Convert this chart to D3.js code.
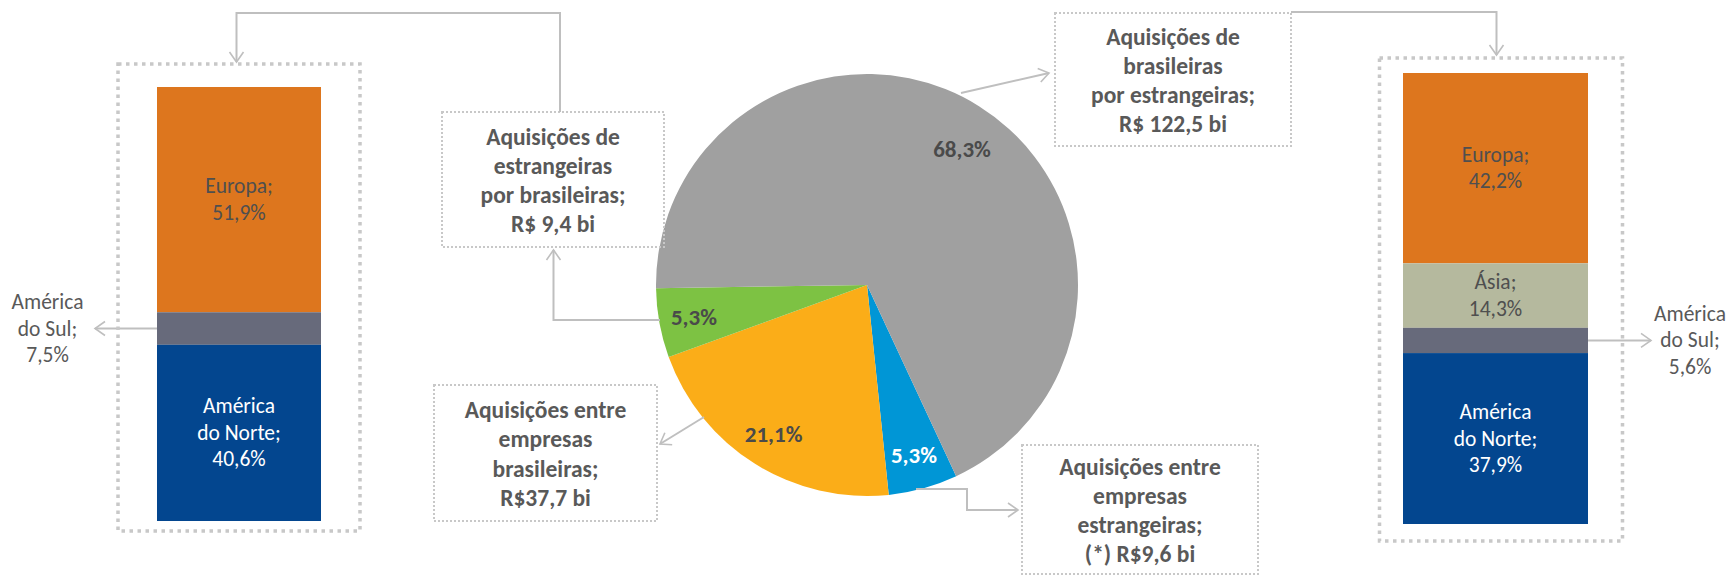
<!DOCTYPE html>
<meta charset="utf-8">
<script src="https://cdn.jsdelivr.net/npm/d3@7"></script>
<style>
body { margin: 0; background: #fff; }
text { font-family: Carlito, Calibri, Lato, sans-serif; fill: #595959; }
.box { fill: none; stroke: #c8c8c8; stroke-width: 2; stroke-dasharray: 2,2; }
.barbox { fill: none; stroke: #c8c8c8; stroke-width: 3.5; stroke-dasharray: 3.5,4.5; }
.conn { fill: none; stroke: #bfbfbf; stroke-width: 2; }
</style>
<body>
<script>

// pie: share of total M&A value by type of deal
var pieNames = ["Aquisições entre empresas estrangeiras", "Aquisições entre empresas brasileiras",
                "Aquisições de estrangeiras por brasileiras", "Aquisições de brasileiras por estrangeiras"];
var pieValues = [5.3, 21.1, 5.3, 68.3];
var pieColors = ["#0096d6", "#fbad18", "#7dc243", "#a0a0a0"];
var pieTextColors = ["#fff", "#4a4a4a", "#4a4a4a", "#4a4a4a"];

// left bar: origin of companies bought by brazilians
var leftRegions = ["Europa", "América do Sul", "América do Norte"];
var leftValues = [51.9, 7.5, 40.6];
var leftColors = ["#dd761e", "#676a7b", "#03468f"];

// right bar: origin of foreign buyers
var rightRegions = ["Europa", "Ásia", "América do Sul", "América do Norte"];
var rightValues = [42.2, 14.3, 5.6, 37.9];
var rightColors = ["#dd761e", "#b5b99e", "#676a7b", "#03468f"];

// callout boxes
var boxTopLeft = ["Aquisições de", "estrangeiras", "por brasileiras;", "R$ 9,4 bi"];
var boxTopRight = ["Aquisições de", "brasileiras", "por estrangeiras;", "R$ 122,5 bi"];
var boxBottomLeft = ["Aquisições entre", "empresas", "brasileiras;", "R$37,7 bi"];
var boxBottomRight = ["Aquisições entre", "empresas", "estrangeiras;", "(*) R$9,6 bi"];

var width = 1731, height = 579;

var svg = d3.select("body").append("svg")
    .attr("width", width)
    .attr("height", height);

svg.append("defs").append("marker")
    .attr("id", "chev")
    .attr("markerUnits", "userSpaceOnUse")
    .attr("viewBox", "-12 -9 14 18")
    .attr("refX", 0).attr("refY", 0)
    .attr("markerWidth", 14).attr("markerHeight", 18)
    .attr("orient", "auto")
  .append("path")
    .attr("d", "M-10,-7L0,0L-10,7")
    .attr("fill", "none")
    .attr("stroke", "#bfbfbf")
    .attr("stroke-width", 1.6);

function fmt(v) { return d3.format(".1f")(v).replace(".", ",") + "%"; }

function multiline(g, lines, x, yc, lh, opts) {
  var t = g.append("text")
      .attr("text-anchor", "middle")
      .style("font-size", opts.size + "px")
      .style("font-weight", opts.weight || 400)
      .style("fill", opts.color || "#595959");
  var y0 = yc - (lines.length - 1) * lh / 2;
  lines.forEach(function(l, i) {
    t.append("tspan")
      .attr("x", x)
      .attr("y", y0 + i * lh)
      .attr("dominant-baseline", "central")
      .text(l);
  });
  return t;
}

// ---- pie
var cx = 867, cy = 285, R = 211;
var deg = Math.PI / 180;
var pie = d3.pie().sort(null).value(function(d) { return d; })
    .startAngle(155 * deg).endAngle(155 * deg + 2 * Math.PI);
var arcs = pie(pieValues);
var arc = d3.arc().innerRadius(0).outerRadius(R);
var labelArc = d3.arc().innerRadius(176).outerRadius(176);

var pg = svg.append("g").attr("transform", "translate(" + cx + "," + cy + ")");
pg.selectAll("path")
    .data(arcs)
  .enter().append("path")
    .attr("d", arc)
    .attr("fill", function(d, i) { return pieColors[i]; });

pg.selectAll("text")
    .data(arcs)
  .enter().append("text")
    .attr("transform", function(d) {
      // the big slice carries its label a bit further round, like the original
      var c = d.data > 50 ? d3.arc().innerRadius(166).outerRadius(166)
            .centroid({ startAngle: d.startAngle + 0.1, endAngle: d.endAngle - 0.0 })
            : labelArc.centroid(d);
      return "translate(" + c + ")";
    })
    .attr("text-anchor", "middle")
    .attr("dominant-baseline", "central")
    .style("font-size", "23px")
    .style("font-weight", 700)
    .style("fill", function(d, i) { return pieTextColors[i]; })
    .text(function(d) { return fmt(d.data); });

// ---- stacked bars
function stackBar(regions, values, colors, x0, x1, y0, y1) {
  var y = d3.scaleLinear().domain([0, d3.sum(values)]).range([y0, y1]);
  var cum = d3.cumsum(values);
  var segs = values.map(function(v, i) {
    return { name: regions[i], value: v, color: colors[i], a: cum[i] - v, b: cum[i] };
  });
  var g = svg.append("g");
  g.selectAll("rect")
      .data(segs)
    .enter().append("rect")
      .attr("x", x0)
      .attr("width", x1 - x0)
      .attr("y", function(d) { return y(d.a); })
      .attr("height", function(d) { return y(d.b) - y(d.a); })
      .attr("fill", function(d) { return d.color; });
  segs.forEach(function(d) {
    d.ym = (y(d.a) + y(d.b)) / 2;
  });
  return { g: g, segs: segs };
}

function regionLines(d) {
  var parts = d.name.split(" ");
  var lines = parts.length > 1 ? [parts[0], parts.slice(1).join(" ") + ";"] : [d.name + ";"];
  lines.push(fmt(d.value));
  return lines;
}

var left = stackBar(leftRegions, leftValues, leftColors, 157, 321, 87, 521);
var right = stackBar(rightRegions, rightValues, rightColors, 1403, 1588, 73, 524);

[left, right].forEach(function(b) {
  var xm = b === left ? 239 : 1495.5;
  b.segs.forEach(function(d) {
    if (d.name === "América do Sul") return;
    multiline(b.g, regionLines(d), xm, d.ym, 26.5,
      { size: 21.5, color: d.name === "América do Norte" ? "#fff" : "#4f4f4f" });
  });
});

// outside labels for América do Sul
var lsa = left.segs[1], rsa = right.segs[2];
svg.append("path").attr("class", "conn")
    .attr("d", "M157," + lsa.ym + "H95")
    .attr("marker-end", "url(#chev)");
multiline(svg, regionLines(lsa), 47.5, lsa.ym, 26.5, { size: 21.5 });
svg.append("path").attr("class", "conn")
    .attr("d", "M1588," + rsa.ym + "H1651")
    .attr("marker-end", "url(#chev)");
multiline(svg, regionLines(rsa), 1690, rsa.ym, 26.5, { size: 21.5 });

// dotted frames around bars
svg.append("rect").attr("class", "barbox")
    .attr("x", 118).attr("y", 64).attr("width", 242).attr("height", 467);
svg.append("rect").attr("class", "barbox")
    .attr("x", 1379.5).attr("y", 58).attr("width", 243).attr("height", 483);

// ---- callout boxes
function callout(lines, x, y, w, h) {
  svg.append("rect").attr("class", "box")
      .attr("x", x).attr("y", y).attr("width", w).attr("height", h);
  multiline(svg, lines, x + w / 2, y + h / 2 + 1, 29.3, { size: 23.5, weight: 700 });
}
callout(boxTopLeft, 442, 112, 222, 135);
callout(boxTopRight, 1055, 13, 236, 133);
callout(boxBottomLeft, 434, 385, 223, 136);
callout(boxBottomRight, 1022, 445, 236, 129);

// ---- connectors
svg.append("path").attr("class", "conn")
    .attr("d", "M560,112V13H236.5V62").attr("marker-end", "url(#chev)");
svg.append("path").attr("class", "conn")
    .attr("d", "M1291,12H1496.5V55").attr("marker-end", "url(#chev)");
svg.append("path").attr("class", "conn")
    .attr("d", "M660,320H553.5V250").attr("marker-end", "url(#chev)");
svg.append("path").attr("class", "conn")
    .attr("d", "M961,93L1049,73").attr("marker-end", "url(#chev)");
svg.append("path").attr("class", "conn")
    .attr("d", "M704,417L660,444").attr("marker-end", "url(#chev)");
svg.append("path").attr("class", "conn")
    .attr("d", "M916,489H967V510H1018").attr("marker-end", "url(#chev)");

</script>
</body>
